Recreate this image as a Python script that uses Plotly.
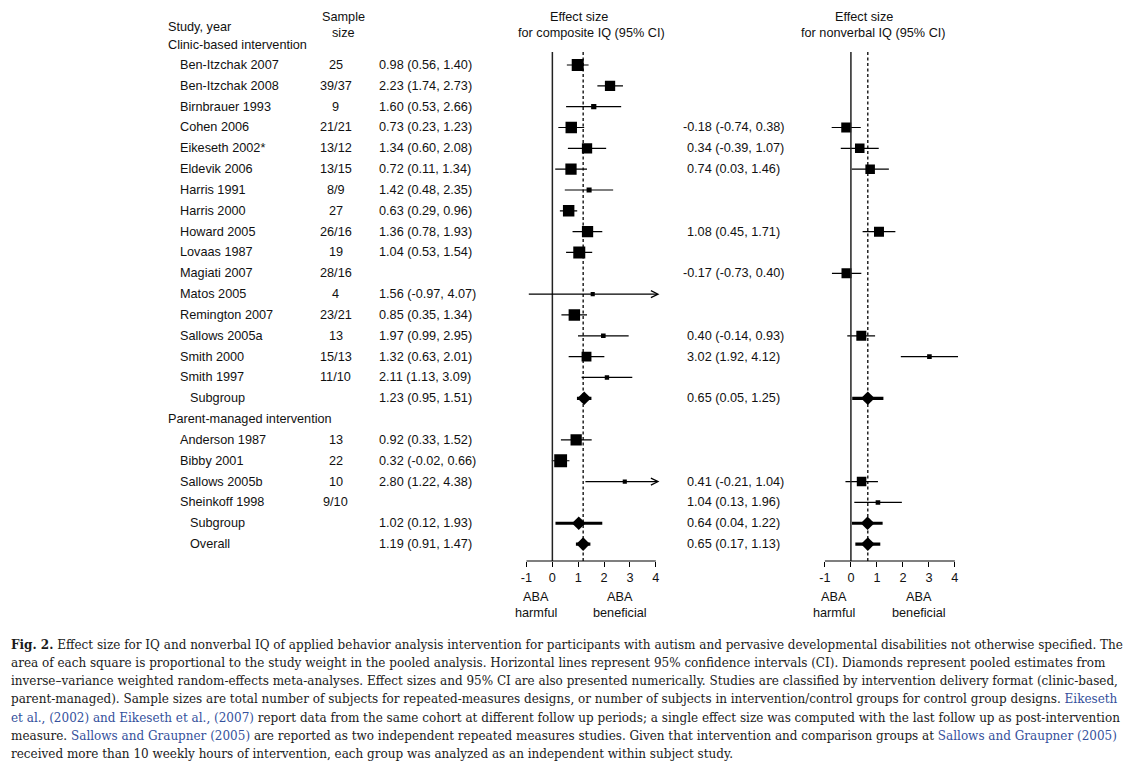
import math
import plotly.graph_objects as go

# ---------------- data ----------------
studies = ["Ben-Itzchak 2007", "Ben-Itzchak 2008", "Birnbrauer 1993", "Cohen 2006",
           "Eikeseth 2002*", "Eldevik 2006", "Harris 1991", "Harris 2000", "Howard 2005",
           "Lovaas 1987", "Magiati 2007", "Matos 2005", "Remington 2007", "Sallows 2005a",
           "Smith 2000", "Smith 1997", "Subgroup", "Parent-managed intervention",
           "Anderson 1987", "Bibby 2001", "Sallows 2005b", "Sheinkoff 1998", "Subgroup", "Overall"]
row_kind = ["study"] * 16 + ["pooled", "header"] + ["study"] * 4 + ["pooled", "pooled"]
sample_size = ["25", "39/37", "9", "21/21", "13/12", "13/15", "8/9", "27", "26/16", "19",
               "28/16", "4", "23/21", "13", "15/13", "11/10", "", "",
               "13", "22", "10", "9/10", "", ""]

comp_es = [0.98, 2.23, 1.60, 0.73, 1.34, 0.72, 1.42, 0.63, 1.36, 1.04, None, 1.56, 0.85, 1.97,
           1.32, 2.11, 1.23, None, 0.92, 0.32, 2.80, None, 1.02, 1.19]
comp_lo = [0.56, 1.74, 0.53, 0.23, 0.60, 0.11, 0.48, 0.29, 0.78, 0.53, None, -0.97, 0.35, 0.99,
           0.63, 1.13, 0.95, None, 0.33, -0.02, 1.22, None, 0.12, 0.91]
comp_hi = [1.40, 2.73, 2.66, 1.23, 2.08, 1.34, 2.35, 0.96, 1.93, 1.54, None, 4.07, 1.34, 2.95,
           2.01, 3.09, 1.51, None, 1.52, 0.66, 4.38, None, 1.93, 1.47]
comp_weight = [6.8, 5.0, 1.3, 6.2, 5.0, 6.0, 1.2, 6.2, 6.0, 6.8, None, 0.8, 6.2, 1.0,
               4.6, 0.9, None, None, 6.0, 7.8, 0.8, None, None, None]

nv_es = [None, None, None, -0.18, 0.34, 0.74, None, None, 1.08, None, -0.17, None, None, 0.40,
         3.02, None, 0.65, None, None, None, 0.41, 1.04, 0.64, 0.65]
nv_lo = [None, None, None, -0.74, -0.39, 0.03, None, None, 0.45, None, -0.73, None, None, -0.14,
         1.92, None, 0.05, None, None, None, -0.21, 0.13, 0.04, 0.17]
nv_hi = [None, None, None, 0.38, 1.07, 1.46, None, None, 1.71, None, 0.40, None, None, 0.93,
         4.12, None, 1.25, None, None, None, 1.04, 1.96, 1.22, 1.13]
nv_weight = [None, None, None, 4.7, 4.3, 4.3, None, None, 4.7, None, 4.7, None, None, 4.7,
             1.0, None, None, None, None, None, 4.3, 1.0, None, None]

tick_vals = [-1, 0, 1, 2, 3, 4]
tick_labels = ["-1", "0", "1", "2", "3", "4"]
header_study = "Study, year"
header_sample = ["Sample", "size"]
group1_label = "Clinic-based intervention"
panel_titles = [["Effect size", "for composite IQ (95% CI)"],
                ["Effect size", "for nonverbal IQ (95% CI)"]]
harmful_label = ["ABA", "harmful"]
beneficial_label = ["ABA", "beneficial"]

BLUE = "#34509c"
caption_lines = [
    "<b>Fig. 2.</b> Effect size for IQ and nonverbal IQ of applied behavior analysis intervention for participants with autism and pervasive developmental disabilities not otherwise specified. The",
    "area of each square is proportional to the study weight in the pooled analysis. Horizontal lines represent 95% confidence intervals (CI). Diamonds represent pooled estimates from",
    "inverse\u2013variance weighted random-effects meta-analyses. Effect sizes and 95% CI are also presented numerically. Studies are classified by intervention delivery format (clinic-based,",
    "parent-managed). Sample sizes are total number of subjects for repeated-measures designs, or number of subjects in intervention/control groups for control group designs. <span style='color:%s'>Eikeseth</span>" % BLUE,
    "<span style='color:%s'>et al., (2002) and Eikeseth et al., (2007)</span> report data from the same cohort at different follow up periods; a single effect size was computed with the last follow up as post-intervention" % BLUE,
    "measure. <span style='color:%s'>Sallows and Graupner (2005)</span> are reported as two independent repeated measures studies. Given that intervention and comparison groups at <span style='color:%s'>Sallows and Graupner (2005)</span>" % (BLUE, BLUE),
    "received more than 10 weekly hours of intervention, each group was analyzed as an independent within subject study.",
]

# ---------------- layout geometry ----------------
W, H = 1127, 762
FONT = "Liberation Sans"
TXT = "#111111"
FS = 12.7
LPAD = 3  # compensation for the annotation box padding of left-anchored texts


def px(x):
    return x / W


def py(y):
    return 1 - y / H


row0_px, row_step = 65.0, 20.83
plot_top_px, plot_bot_px = 52.0, 561.0
y_range = [(plot_bot_px - row0_px) / row_step, (plot_top_px - row0_px) / row_step]
y_dom = [py(plot_bot_px), py(plot_top_px)]
x_range = [-1, 4.15]
arrow_cap = 4.14
panels = [
    dict(xa="x", dom=[px(523.3), px(657.2)], es=comp_es, lo=comp_lo, hi=comp_hi, w=comp_weight,
         arrows=True, title_px=[(576, 17), (589, 33)]),
    dict(xa="x2", dom=[px(823.3), px(957.9)], es=nv_es, lo=nv_lo, hi=nv_hi, w=nv_weight,
         arrows=False, title_px=[(863, 17), (872, 33)]),
]
rows = list(range(len(studies)))


def to_paper(v, p):
    d0, d1 = p["dom"]
    return d0 + (v - x_range[0]) / (x_range[1] - x_range[0]) * (d1 - d0)


fig = go.Figure()
annotations = []
shapes = []

for pi, p in enumerate(panels):
    xa = p["xa"]
    ya = "y"
    ci_x, ci_y, sq_x, sq_y, sq_s = [], [], [], [], []
    pl_x, pl_y, dm_x, dm_y = [], [], [], []
    for r in rows:
        es, lo, hi = p["es"][r], p["lo"][r], p["hi"][r]
        if es is None:
            continue
        if row_kind[r] == "study":
            if p["arrows"] and hi > tick_vals[-1]:
                annotations.append(dict(
                    x=arrow_cap, y=r, ax=lo, ay=r, xref=xa, yref=ya, axref=xa, ayref=ya,
                    text="", showarrow=True, arrowhead=5, arrowsize=1.15, arrowwidth=1.2,
                    arrowcolor="black", standoff=0, startstandoff=0))
            else:
                ci_x += [lo, hi, None]
                ci_y += [r, r, None]
            sq_x.append(es)
            sq_y.append(r)
            sq_s.append(4.6 * math.sqrt(p["w"][r]))
        else:
            pl_x += [lo, hi, None]
            pl_y += [r, r, None]
            dm_x.append(es)
            dm_y.append(r)
    fig.add_trace(go.Scatter(x=ci_x, y=ci_y, mode="lines", xaxis=xa, yaxis=ya,
                             line=dict(color="black", width=1.2), showlegend=False, hoverinfo="skip"))
    fig.add_trace(go.Scatter(x=pl_x, y=pl_y, mode="lines", xaxis=xa, yaxis=ya,
                             line=dict(color="black", width=3.2), showlegend=False, hoverinfo="skip"))
    fig.add_trace(go.Scatter(x=sq_x, y=sq_y, mode="markers", xaxis=xa, yaxis=ya,
                             marker=dict(symbol="square", size=sq_s, color="black", opacity=1,
                                         line=dict(width=0)),
                             showlegend=False))
    fig.add_trace(go.Scatter(x=dm_x, y=dm_y, mode="markers", xaxis=xa, yaxis=ya,
                             marker=dict(symbol="diamond", size=10.5, color="black", opacity=1,
                                         line=dict(width=0)),
                             showlegend=False))
    # zero line and overall line
    shapes.append(dict(type="line", xref=xa, yref="paper", x0=0, x1=0,
                       y0=y_dom[0], y1=y_dom[1], line=dict(color="#222222", width=1.5)))
    shapes.append(dict(type="line", xref=xa, yref="paper", x0=p["es"][-1], x1=p["es"][-1],
                       y0=y_dom[0], y1=y_dom[1], line=dict(color="black", width=1.3, dash="3px,2.5px")))
    # axis baseline from first to last tick
    shapes.append(dict(type="line", xref="paper", yref="paper",
                       x0=to_paper(tick_vals[0], p), x1=to_paper(tick_vals[-1], p),
                       y0=y_dom[0], y1=y_dom[0], line=dict(color="black", width=1.2)))
    # titles
    for txt, (tx, ty) in zip(panel_titles[pi], p["title_px"]):
        annotations.append(dict(x=px(tx), y=py(ty), xref="paper", yref="paper", text=txt,
                                showarrow=False, xanchor="center", yanchor="middle",
                                font=dict(family=FONT, size=FS, color=TXT)))
    # direction labels
    for lab, xv in ((harmful_label, -0.65), (beneficial_label, 2.6)):
        for txt, ty in zip(lab, (597, 612.5)):
            annotations.append(dict(x=xv, y=py(ty), xref=xa, yref="paper", text=txt,
                                    showarrow=False, xanchor="center", yanchor="middle",
                                    font=dict(family=FONT, size=FS, color=TXT)))

# ---------------- row texts ----------------
name_x = {"study": 176, "header": 164, "pooled": 186}
for r in rows:
    annotations.append(dict(x=px(name_x[row_kind[r]] - LPAD), y=r, xref="paper", yref="y",
                            text=studies[r], showarrow=False, xanchor="left", yanchor="middle",
                            font=dict(family=FONT, size=FS, color=TXT)))
    if sample_size[r]:
        annotations.append(dict(x=px(331.5), y=r, xref="paper", yref="y", text=sample_size[r],
                                showarrow=False, xanchor="center", yanchor="middle",
                                font=dict(family=FONT, size=FS, color=TXT)))
    for vals, col_x in (((comp_es, comp_lo, comp_hi), 375.5), ((nv_es, nv_lo, nv_hi), 686)):
        es, lo, hi = vals[0][r], vals[1][r], vals[2][r]
        if es is None:
            continue
        annotations.append(dict(x=px(col_x - LPAD), y=r, xref="paper", yref="y",
                                text="%.2f (%.2f, %.2f)" % (es, lo, hi), showarrow=False,
                                xanchor="left", yanchor="middle", xshift=-4.2 if es < 0 else 0,
                                font=dict(family=FONT, size=FS, color=TXT)))

# headers
annotations.append(dict(x=px(164 - LPAD), y=py(27), xref="paper", yref="paper", text=header_study,
                        showarrow=False, xanchor="left", yanchor="middle",
                        font=dict(family=FONT, size=FS, color=TXT)))
annotations.append(dict(x=px(164 - LPAD), y=py(44.5), xref="paper", yref="paper", text=group1_label,
                        showarrow=False, xanchor="left", yanchor="middle",
                        font=dict(family=FONT, size=FS, color=TXT)))
for txt, ty in zip(header_sample, (17.5, 33)):
    annotations.append(dict(x=px(339), y=py(ty), xref="paper", yref="paper", text=txt,
                            showarrow=False, xanchor="center", yanchor="middle",
                            font=dict(family=FONT, size=FS, color=TXT)))

# caption
cap_y0, cap_step = 645.0, 18.15
for i, line in enumerate(caption_lines):
    annotations.append(dict(x=px(6 - LPAD), y=py(cap_y0 + i * cap_step), xref="paper", yref="paper",
                            text=line, showarrow=False, xanchor="left", yanchor="middle",
                            align="left", font=dict(family="DejaVu Serif", size=12.0, color="#1a1a1a")))

axis_common = dict(range=x_range, tickvals=tick_vals, ticktext=tick_labels, ticks="outside",
                   ticklen=5, tickwidth=1.1, tickcolor="black", showline=False, showgrid=False,
                   zeroline=False, anchor="y", fixedrange=True,
                   tickfont=dict(family=FONT, size=FS, color=TXT))

fig.update_layout(
    width=W, height=H, margin=dict(l=0, r=0, t=0, b=0),
    paper_bgcolor="white", plot_bgcolor="rgba(0,0,0,0)",
    xaxis=dict(domain=panels[0]["dom"], **axis_common),
    xaxis2=dict(domain=panels[1]["dom"], **axis_common),
    yaxis=dict(domain=y_dom, range=y_range, visible=False, fixedrange=True),
    annotations=annotations, shapes=shapes, showlegend=False,
)

fig.write_html("out.html", config={"displayModeBar": False},
               post_script="document.body.style.margin='0px';")
